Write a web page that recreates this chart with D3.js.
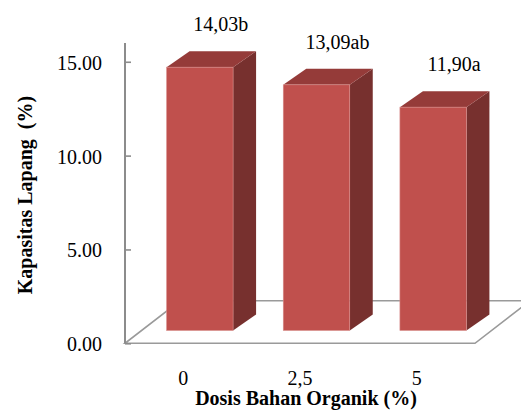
<!DOCTYPE html>
<html>
<head>
<meta charset="utf-8">
<script src="https://cdn.jsdelivr.net/npm/d3@7"></script>
<style>
  html, body { margin: 0; padding: 0; background: #fff; }
  svg { display: block; }
</style>
</head>
<body>
<svg id="chart" width="521" height="410"></svg>
<script>
// Field capacity by organic matter dose
const categories = ["0", "2,5", "5"];
const values = [14.03, 13.09, 11.90];
const valueLabels = ["14,03b", "13,09ab", "11,90a"];
const yTicks = [0, 5, 10, 15];

const FONT = "'Liberation Serif', 'Times New Roman', Times, 'DejaVu Serif', serif";
const svg = d3.select("#chart").attr("font-family", FONT);

const x0 = 125, x1 = 475;      // front floor edge
const yBase = 343.3;           // value 0 on the axis
const yTop = 43;               // top of the value axis

const x = d3.scaleBand().domain(categories).range([x0, x1]);
const y = d3.scaleLinear().domain([0, 16]).range([yBase, yTop]);

// depth offsets for the floor and the bars
const floorDx = 55, floorDy = -42.5;
const barDx = 23, barDy = -16;
const barShiftX = 16.5, barShiftY = -12.8;   // bars sit mid-depth on the floor
const barW = x.bandwidth() * 0.57;

const grey = "#8c8c8c";

// floor
svg.append("path")
  .attr("d", `M${x0},${yBase} L${x1},${yBase} L${x1 + floorDx},${yBase + floorDy} L${x0 + floorDx},${yBase + floorDy} Z`)
  .attr("fill", "none")
  .attr("stroke", "#9a9a9a")
  .attr("stroke-width", 1.6);

// bars
const colFront = "#c0504d", colTop = "#953b39", colSide = "#77302e";
const bars = svg.append("g").selectAll("g")
  .data(categories.map((c, i) => ({ c, v: values[i], label: valueLabels[i] })))
  .join("g");

bars.each(function (d) {
  const g = d3.select(this);
  const cx = x(d.c) + x.bandwidth() / 2 + barShiftX;
  const l = cx - barW / 2, r = cx + barW / 2;
  const t = y(d.v) + barShiftY, b = y(0) + barShiftY;
  g.append("path")
    .attr("d", `M${r},${t} L${r + barDx},${t + barDy} L${r + barDx},${b + barDy} L${r},${b} Z`)
    .attr("fill", colSide);
  g.append("path")
    .attr("d", `M${l},${t} L${l + barDx},${t + barDy} L${r + barDx},${t + barDy} L${r},${t} Z`)
    .attr("fill", colTop);
  g.append("rect")
    .attr("x", l).attr("y", t)
    .attr("width", barW).attr("height", b - t)
    .attr("fill", colFront)
    .attr("stroke", "#d98f8d").attr("stroke-width", 0.6);
  g.append("text")
    .attr("x", cx + 21)
    .attr("y", t + barDy - 20)
    .attr("text-anchor", "middle")
    .attr("font-size", 20)
    .text(d.label);
});

// value axis
const axis = svg.append("g").attr("transform", `translate(${x0},0)`)
  .call(d3.axisRight(y).tickValues(yTicks).tickSize(6).tickFormat(""));
axis.select(".domain").remove();
axis.selectAll(".tick line").attr("stroke", grey).attr("stroke-width", 1.6);
svg.append("line")
  .attr("x1", x0).attr("x2", x0).attr("y1", yTop).attr("y2", yBase)
  .attr("stroke", grey).attr("stroke-width", 2);

svg.append("g").selectAll("text").data(yTicks).join("text")
  .attr("x", 102)
  .attr("y", d => y(d) + 8)
  .attr("text-anchor", "end")
  .attr("font-size", 20)
  .text(d => d.toFixed(2));

// category labels
svg.append("g").selectAll("text").data(categories).join("text")
  .attr("x", d => x(d) + x.bandwidth() / 2)
  .attr("y", 385)
  .attr("text-anchor", "middle")
  .attr("font-size", 20)
  .text(d => d);

// axis titles
svg.append("text")
  .attr("x", 306).attr("y", 405)
  .attr("text-anchor", "middle")
  .attr("font-size", 20)
  .attr("font-weight", "bold")
  .text("Dosis Bahan Organik (%)");

svg.append("text")
  .attr("transform", "translate(32,195) rotate(-90)")
  .attr("text-anchor", "middle")
  .attr("font-size", 20)
  .attr("font-weight", "bold")
  .style("white-space", "pre")
  .text("Kapasitas Lapang  (%)");
</script>
</body>
</html>
